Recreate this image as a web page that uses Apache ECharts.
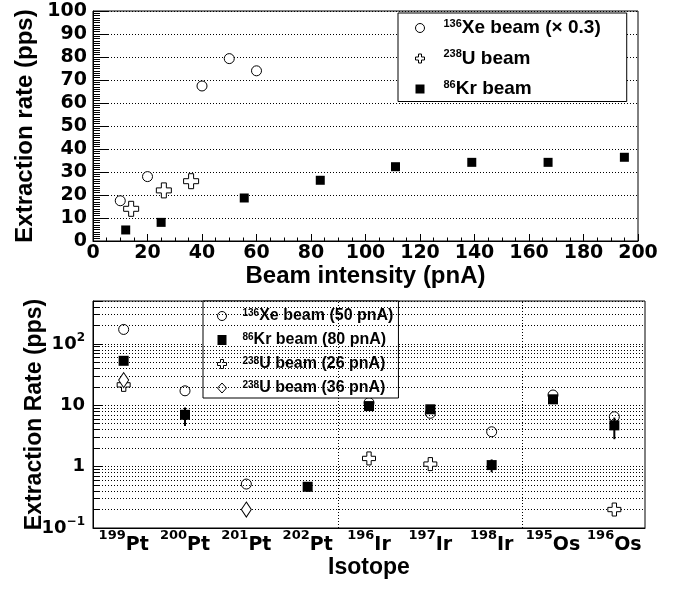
<!DOCTYPE html>
<html>
<head>
<meta charset="utf-8">
<script src="https://cdn.jsdelivr.net/npm/echarts@6/dist/echarts.min.js"></script>
<style>
  html, body { margin: 0; padding: 0; background: #fff; }
  #main { width: 682px; height: 589px; }
</style>
</head>
<body>
<div id="main"></div>
<script>
// top panel: extraction rate vs beam intensity
const xeIntensity = [10, 20, 40, 50, 60];
const xeRate = [17.5, 28, 67.4, 79.3, 74];
const uIntensity = [14, 26, 36];
const uRate = [14, 22, 26];
const krIntensity = [12, 25, 55.5, 83.4, 111, 139, 167, 195];
const krRate = [4.8, 8.1, 18.7, 26.4, 32.3, 34.2, 34.2, 36.4];

// bottom panel: extraction rate per isotope
const isoMass = [199, 200, 201, 202, 196, 197, 198, 195, 196];
const isoElem = ['Pt', 'Pt', 'Pt', 'Pt', 'Ir', 'Ir', 'Ir', 'Os', 'Os'];
const xe50 = [172, 17.2, 0.52, null, 11, 7.4, 3.7, 14.7, 6.5];
const kr80 = [53, 7, null, 0.47, 9.7, 8.6, 1.06, 12.5, 4.7];
const kr80Low = [null, 4.6, null, 0.39, null, null, 0.81, null, 2.8];
const kr80High = [null, 9.2, null, 0.55, null, null, 1.31, null, 6.3];
const u26 = [21.5, null, null, null, 1.36, 1.1, null, null, 0.2];
const u36 = [25.7, null, 0.2, null, null, null, null, null, null];

// element groups split after these category positions
const groupEdges = [4, 7];

const topSup = ['136', '238', '86'];
const topText = ['Xe beam (\u00d7 0.3)', 'U beam', 'Kr beam'];
const botSup = ['136', '86', '238', '238'];
const botText = ['Xe beam (50 pnA)', 'Kr beam (80 pnA)', 'U beam (26 pnA)', 'U beam (36 pnA)'];

const topNames = topSup.map((s, i) => s + topText[i]);
const botNames = botSup.map((s, i) => s + botText[i]);

// minor decades for the log axis
const minorVals = [];
[0.1, 1, 10, 100].forEach(d => {
  for (let k = 2; k <= 9; k++) if (k * d <= 500) minorVals.push(k * d);
});

const crossPath = 'path://M1,0H2V1H3V2H2V3H1V2H0V1H1Z';
const hollow = { color: '#fff', borderColor: '#000', borderWidth: 1, opacity: 1 };
const filled = { color: '#000', borderColor: '#000', borderWidth: 0, opacity: 1 };
const catData = isoMass.map((m, i) => m + isoElem[i]);
const dash = [1, 2];

function pairs(xs, ys) { return xs.map((x, i) => [x, ys[i]]); }
function cat(vals) { return vals.map(v => (v == null ? '-' : v)); }

const chart = echarts.init(document.getElementById('main'));

const titleFont = { fontFamily: 'Liberation Sans', fontWeight: 'bold', fontSize: 24, color: '#000' };
const tickFont = { fontFamily: 'DejaVu Sans', fontWeight: 'bold', color: '#000' };

const option = {
  animation: false,
  grid: [
    { left: 93, top: 11, width: 545, height: 230, show: true, borderColor: '#000', borderWidth: 1 },
    { left: 93, top: 301, width: 552, height: 227, show: true, borderColor: '#000', borderWidth: 1 }
  ],
  xAxis: [
    {
      gridIndex: 0, type: 'value', min: 0, max: 200, interval: 20,
      axisLine: { lineStyle: { color: '#000' } },
      axisTick: { inside: true, length: 7, lineStyle: { color: '#000' } },
      minorTick: { show: true, splitNumber: 4, length: 3.5, lineStyle: { color: '#000' } },
      splitLine: { show: false },
      axisLabel: Object.assign({ fontSize: 19, margin: 3 }, tickFont),
      name: 'Beam intensity (pnA)', nameLocation: 'middle', nameGap: 23, nameMoveOverlap: false,
      nameTextStyle: titleFont
    },
    {
      gridIndex: 1, type: 'category', data: catData, boundaryGap: true,
      axisLine: { lineStyle: { color: '#000' } },
      axisTick: { show: false },
      axisLabel: {
        interval: 0, margin: 1,
        formatter: (v, i) => '{s|' + isoMass[i] + '}{b|' + isoElem[i] + '}',
        rich: {
          s: Object.assign({ fontSize: 13, lineHeight: 13, verticalAlign: 'top' }, tickFont),
          b: Object.assign({ fontSize: 19, lineHeight: 32 }, tickFont)
        }
      },
      name: 'Isotope', nameLocation: 'middle', nameGap: 28, nameMoveOverlap: false,
      nameTextStyle: Object.assign({}, titleFont, { fontSize: 23 })
    },
    { gridIndex: 1, type: 'value', min: 0, max: 9, show: false }
  ],
  yAxis: [
    {
      gridIndex: 0, type: 'value', min: 0, max: 100, interval: 10,
      axisLine: { lineStyle: { color: '#000' } },
      axisTick: { inside: true, length: 15, lineStyle: { color: '#000' } },
      minorTick: { show: true, splitNumber: 10, length: 7, lineStyle: { color: '#000' } },
      splitLine: { show: true, lineStyle: { type: dash, color: '#000' } },
      axisLabel: Object.assign({ fontSize: 19, margin: 6 }, tickFont),
      name: 'Extraction rate (pps)', nameLocation: 'middle', nameGap: 56, nameMoveOverlap: false,
      nameTextStyle: titleFont
    },
    {
      gridIndex: 1, type: 'log', logBase: 10, min: 0.1, max: 500,
      axisLine: { lineStyle: { color: '#000' } },
      axisTick: { inside: true, length: 9, lineStyle: { color: '#000' } },
      splitLine: { show: true, lineStyle: { type: dash, color: '#000' } },
      axisLabel: {
        margin: 8,
        formatter: function (v) {
          const l = Math.log10(v), e = Math.round(l);
          if (Math.abs(l - e) > 1e-6) return '';
          if (e === 0) return '{b|1}';
          if (e === 1) return '{b|10}';
          return '{b|10}{sup|' + (e < 0 ? '\u2212' : '') + Math.abs(e) + '}';
        },
        rich: {
          b: Object.assign({ fontSize: 18, lineHeight: 24 }, tickFont),
          sup: Object.assign({ fontSize: 12, lineHeight: 12, verticalAlign: 'top' }, tickFont)
        }
      },
      name: 'Extraction Rate (pps)', nameLocation: 'middle', nameGap: 47, nameMoveOverlap: false,
      nameTextStyle: Object.assign({}, titleFont, { fontSize: 23 })
    }
  ],
  legend: [
    {
      orient: 'vertical', left: 398, top: 13, itemWidth: 9, itemHeight: 9, itemGap: 11,
      backgroundColor: '#fff', borderColor: '#000', borderWidth: 1, borderRadius: 0,
      padding: [5, 26, 3, 17], selectedMode: false,
      data: [
        { name: topNames[0], icon: 'circle', itemStyle: hollow },
        { name: topNames[1], icon: crossPath, itemStyle: hollow },
        { name: topNames[2], icon: 'rect', itemStyle: filled }
      ],
      formatter: name => {
        const i = topNames.indexOf(name);
        return '{sup|' + topSup[i] + '}{t|' + topText[i] + '}';
      },
      textStyle: {
        rich: {
          sup: { fontFamily: 'Liberation Sans', fontWeight: 'bold', fontSize: 11, lineHeight: 10, verticalAlign: 'top', padding: [0, 0, 0, 14], color: '#000' },
          t: { fontFamily: 'Liberation Sans', fontWeight: 'bold', fontSize: 19, lineHeight: 20, color: '#000' }
        }
      }
    },
    {
      orient: 'vertical', left: 203, top: 301, itemWidth: 9, itemHeight: 10, itemGap: 8,
      backgroundColor: '#fff', borderColor: '#000', borderWidth: 1, borderRadius: 0,
      padding: [7, 5, 2, 14], selectedMode: false,
      data: [
        { name: botNames[0], icon: 'circle', itemStyle: hollow },
        { name: botNames[1], icon: 'rect', itemStyle: filled },
        { name: botNames[2], icon: crossPath, itemStyle: hollow },
        { name: botNames[3], icon: 'diamond', itemStyle: hollow }
      ],
      formatter: name => {
        const i = botNames.indexOf(name);
        return '{sup|' + botSup[i] + '}{t|' + botText[i] + '}';
      },
      textStyle: {
        rich: {
          sup: { fontFamily: 'Liberation Sans', fontWeight: 'bold', fontSize: 10, lineHeight: 9, verticalAlign: 'top', padding: [0, 0, 0, 11], color: '#000' },
          t: { fontFamily: 'Liberation Sans', fontWeight: 'bold', fontSize: 16, lineHeight: 16, color: '#000' }
        }
      }
    }
  ],
  series: [
    // top panel
    { name: topNames[0], type: 'scatter', xAxisIndex: 0, yAxisIndex: 0, symbol: 'circle', symbolSize: 10, itemStyle: hollow, data: pairs(xeIntensity, xeRate) },
    { name: topNames[1], type: 'scatter', xAxisIndex: 0, yAxisIndex: 0, symbol: crossPath, symbolSize: 15, itemStyle: hollow, data: pairs(uIntensity, uRate) },
    { name: topNames[2], type: 'scatter', xAxisIndex: 0, yAxisIndex: 0, symbol: 'rect', symbolSize: 9, itemStyle: filled, data: pairs(krIntensity, krRate) },

    // bottom panel helpers: minor grid lines, minor ticks, group separators
    {
      type: 'scatter', xAxisIndex: 2, yAxisIndex: 1, data: [], silent: true, z: 1,
      markLine: {
        silent: true, symbol: ['none', 'none'], label: { show: false }, animation: false,
        lineStyle: { type: dash, color: '#000', width: 1 },
        data: minorVals.map(v => ({ yAxis: v }))
          .concat(groupEdges.map(g => ({ xAxis: g })))
          .concat(minorVals.map(v => [
            { coord: [0, v], lineStyle: { type: 'solid', color: '#000', width: 1 } },
            { coord: [0.1, v] }
          ]))
      }
    },

    { name: botNames[0], type: 'scatter', xAxisIndex: 1, yAxisIndex: 1, symbol: 'circle', symbolSize: 10, itemStyle: hollow, data: cat(xe50), z: 3 },
    {
      type: 'custom', xAxisIndex: 1, yAxisIndex: 1, z: 4,
      data: kr80Low.map((lo, i) => [i, lo, kr80High[i]]).filter(d => d[1] != null),
      encode: { x: 0, y: [1, 2] },
      renderItem: function (params, api) {
        const a = api.coord([api.value(0), api.value(1)]);
        const b = api.coord([api.value(0), api.value(2)]);
        return { type: 'line', shape: { x1: a[0], y1: a[1], x2: b[0], y2: b[1] }, style: { stroke: '#000', lineWidth: 2 } };
      }
    },
    { name: botNames[1], type: 'scatter', xAxisIndex: 1, yAxisIndex: 1, symbol: 'rect', symbolSize: 10, itemStyle: filled, data: cat(kr80), z: 5 },
    { name: botNames[2], type: 'scatter', xAxisIndex: 1, yAxisIndex: 1, symbol: crossPath, symbolSize: 13, itemStyle: hollow, data: cat(u26), z: 5 },
    { name: botNames[3], type: 'scatter', xAxisIndex: 1, yAxisIndex: 1, symbol: 'diamond', symbolSize: [10, 15], itemStyle: hollow, data: cat(u36), z: 6 }
  ]
};

chart.setOption(option);
</script>
</body>
</html>
